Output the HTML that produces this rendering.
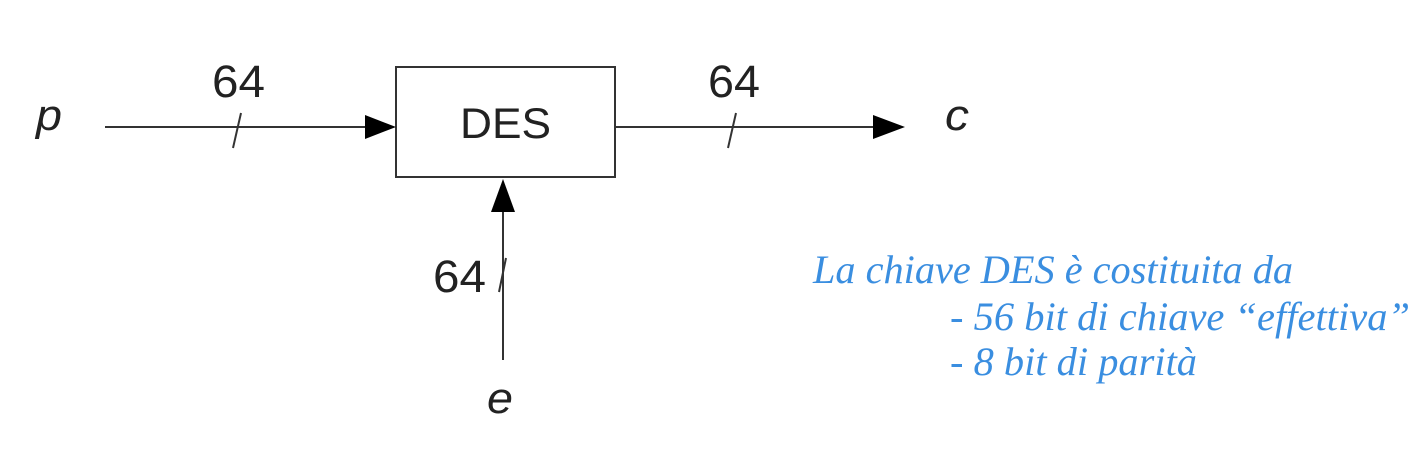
<!DOCTYPE html>
<html><head><meta charset="utf-8"><style>html,body{margin:0;padding:0;background:#fff;}svg{display:block;}</style></head>
<body>
<svg width="1422" height="450" viewBox="0 0 1422 450" xmlns="http://www.w3.org/2000/svg">
<rect width="1422" height="450" fill="#fff"/>
<g stroke="#333" stroke-width="2" fill="none">
<rect x="396" y="67" width="219" height="110"/>
<line x1="105" y1="127" x2="368" y2="127"/>
<line x1="615" y1="127" x2="877" y2="127"/>
<line x1="503" y1="360" x2="503" y2="210"/>
<line x1="241" y1="113" x2="233" y2="148"/>
<line x1="736" y1="113" x2="728" y2="148"/>
<line x1="506" y1="258" x2="499" y2="292"/>
</g>
<g fill="#000">
<polygon points="365,115 396,127 365,139"/>
<polygon points="873,115 905,127 873,139"/>
<polygon points="491,212 503,179 515,212"/>
</g>
<g font-family="Liberation Sans, sans-serif" fill="#222">
<text x="460" y="138" font-size="43" textLength="91" lengthAdjust="spacingAndGlyphs">DES</text>
<text x="212" y="97" font-size="45" textLength="53" lengthAdjust="spacingAndGlyphs">64</text>
<text x="708" y="97" font-size="45" textLength="52" lengthAdjust="spacingAndGlyphs">64</text>
<text x="433" y="292" font-size="45" textLength="53" lengthAdjust="spacingAndGlyphs">64</text>
<text x="36" y="130" font-size="44" font-style="italic" textLength="26" lengthAdjust="spacingAndGlyphs">p</text>
<text x="945" y="130" font-size="44" font-style="italic" textLength="24" lengthAdjust="spacingAndGlyphs">c</text>
<text x="487" y="413" font-size="44" font-style="italic" textLength="26" lengthAdjust="spacingAndGlyphs">e</text>
</g>
<g font-family="Liberation Serif, serif" font-style="italic" fill="#3a8ee0" font-size="40">
<text x="813" y="283" textLength="480" lengthAdjust="spacingAndGlyphs">La chiave DES è costituita da</text>
<text x="950" y="330" textLength="460" lengthAdjust="spacingAndGlyphs">- 56 bit di chiave “effettiva”</text>
<text x="950" y="375" textLength="247" lengthAdjust="spacingAndGlyphs">- 8 bit di parità</text>
</g>
</svg>
</body></html>
